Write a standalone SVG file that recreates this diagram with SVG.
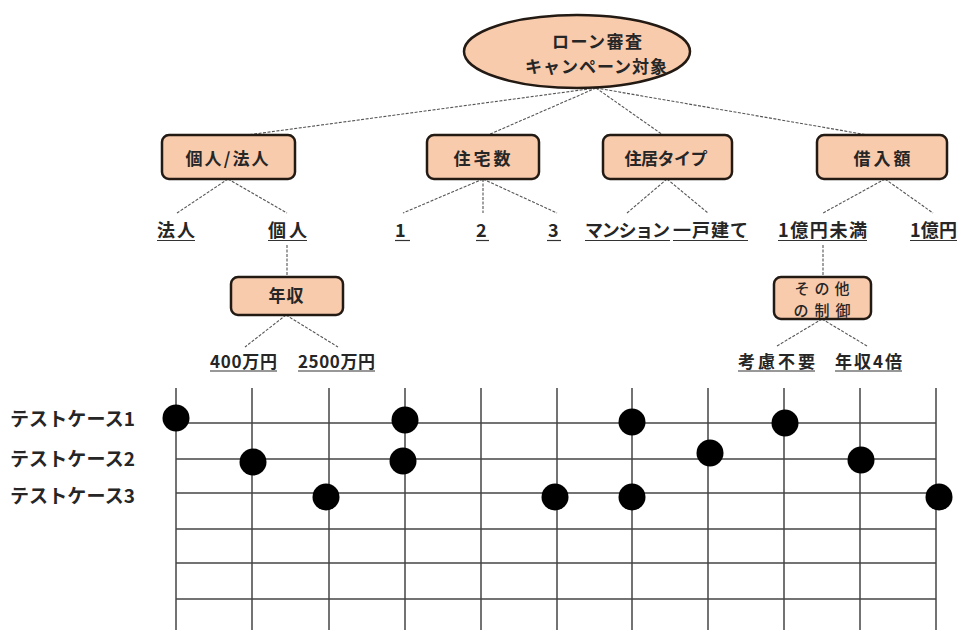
<svg xmlns="http://www.w3.org/2000/svg" width="958" height="630" viewBox="0 0 958 630">
<style>
.t{font-family:"Noto Sans CJK JP","Noto Sans",sans-serif;font-weight:bold;fill:#262626}
.m{font-family:"Noto Sans CJK JP","Noto Sans",sans-serif;font-weight:500;fill:#262626}
.n{fill:#F8CBAD;stroke:#231a14;stroke-width:2.5}
.c{stroke:#555;stroke-width:1.1;stroke-dasharray:3 1.5;fill:none}
.u{stroke:#333;stroke-width:1.2}
.g{stroke:#444;stroke-width:1.5}
.d{fill:#000}
</style>
<rect width="958" height="630" fill="#fff"/>
<g id="connectors">
<line class="c" x1="596" y1="88" x2="247" y2="135"/>
<line class="c" x1="596" y1="88" x2="488" y2="135"/>
<line class="c" x1="596" y1="88" x2="663" y2="135"/>
<line class="c" x1="596" y1="88" x2="868" y2="135"/>
<line class="c" x1="228" y1="179" x2="177" y2="213"/>
<line class="c" x1="228" y1="179" x2="287" y2="213"/>
<line class="c" x1="483" y1="179" x2="403" y2="213"/>
<line class="c" x1="483" y1="179" x2="483" y2="213"/>
<line class="c" x1="483" y1="179" x2="557" y2="213"/>
<line class="c" x1="667" y1="179" x2="627" y2="213"/>
<line class="c" x1="667" y1="179" x2="708" y2="213"/>
<line class="c" x1="885" y1="179" x2="823" y2="213"/>
<line class="c" x1="885" y1="179" x2="933" y2="213"/>
<line class="c" x1="287" y1="245" x2="287" y2="277"/>
<line class="c" x1="286" y1="315" x2="245" y2="347"/>
<line class="c" x1="286" y1="315" x2="338" y2="347"/>
<line class="c" x1="823" y1="245" x2="823" y2="277"/>
<line class="c" x1="822" y1="319" x2="777" y2="346"/>
<line class="c" x1="822" y1="319" x2="867" y2="346"/>
</g>
<g id="root">
<ellipse class="n" cx="577" cy="51.5" rx="113" ry="36.5"/>
<text class="t" x="597" y="48" font-size="17" text-anchor="middle" textLength="90">ローン審査</text>
<text class="t" x="596" y="73" font-size="17" text-anchor="middle" textLength="142">キャンペーン対象</text>
</g>
<g id="node-kojin-hojin">
<rect class="n" x="162" y="135" width="133" height="44" rx="7"/>
<text class="t" x="227" y="165" font-size="17" text-anchor="middle" textLength="83">個人/法人</text>
</g>
<g id="node-jutakusu">
<rect class="n" x="427" y="135" width="112" height="44" rx="7"/>
<text class="t" x="482" y="165" font-size="17" text-anchor="middle" textLength="57">住宅数</text>
</g>
<g id="node-jukyo">
<rect class="n" x="603" y="135" width="129" height="44" rx="7"/>
<text class="t" x="666" y="165" font-size="17" text-anchor="middle" textLength="83">住居タイプ</text>
</g>
<g id="node-kariire">
<rect class="n" x="817" y="135" width="130" height="44" rx="7"/>
<text class="t" x="882" y="165" font-size="17" text-anchor="middle" textLength="57">借入額</text>
</g>
<g id="node-nenshu">
<rect class="n" x="231" y="277" width="112" height="38" rx="7"/>
<text class="t" x="286" y="302" font-size="17" text-anchor="middle" textLength="35">年収</text>
</g>
<g id="node-sonota">
<rect class="n" x="774" y="277" width="97" height="42" rx="7"/>
<text class="m" x="822" y="294" font-size="15" text-anchor="middle" textLength="55">その他</text>
<text class="m" x="822" y="316" font-size="15" text-anchor="middle" textLength="57">の制御</text>
</g>
<g id="leaves">
<text class="t" x="157" y="237" font-size="18" textLength="38">法人</text>
<line class="u" x1="157" y1="240.5" x2="195" y2="240.5"/>
<text class="t" x="268" y="237" font-size="18" textLength="39">個人</text>
<line class="u" x1="268" y1="240.5" x2="307" y2="240.5"/>
<text class="t" x="395" y="237" font-size="18" textLength="15">1</text>
<line class="u" x1="395" y1="240.5" x2="410" y2="240.5"/>
<text class="t" x="476" y="237" font-size="18" textLength="12">2</text>
<line class="u" x1="476" y1="240.5" x2="489" y2="240.5"/>
<text class="t" x="548" y="237" font-size="18" textLength="12">3</text>
<line class="u" x1="547" y1="240.5" x2="561" y2="240.5"/>
<text class="t" x="585" y="237" font-size="18" textLength="85">マンション</text>
<line class="u" x1="585" y1="240.5" x2="670" y2="240.5"/>
<text class="t" x="673" y="237" font-size="18" textLength="75">一戸建て</text>
<line class="u" x1="673" y1="240.5" x2="748" y2="240.5"/>
<text class="t" x="778" y="237" font-size="18" textLength="89">1億円未満</text>
<line class="u" x1="778" y1="240.5" x2="867" y2="240.5"/>
<text class="t" x="910" y="237" font-size="18" textLength="47">1億円</text>
<line class="u" x1="910" y1="240.5" x2="957" y2="240.5"/>
<text class="t" x="210" y="368" font-size="17" textLength="67">400万円</text>
<line class="u" x1="210" y1="371" x2="277" y2="371"/>
<text class="t" x="298" y="368" font-size="17" textLength="77">2500万円</text>
<line class="u" x1="298" y1="371" x2="375" y2="371"/>
<text class="t" x="738" y="368" font-size="17" textLength="77">考慮不要</text>
<line class="u" x1="738" y1="371" x2="815" y2="371"/>
<text class="t" x="835" y="368" font-size="17" textLength="67">年収4倍</text>
<line class="u" x1="835" y1="371" x2="902" y2="371"/>
</g>
<g id="grid">
<line class="g" x1="176" y1="388" x2="176" y2="630"/>
<line class="g" x1="252" y1="388" x2="252" y2="630"/>
<line class="g" x1="329" y1="388" x2="329" y2="630"/>
<line class="g" x1="405" y1="388" x2="405" y2="630"/>
<line class="g" x1="481" y1="388" x2="481" y2="630"/>
<line class="g" x1="557" y1="388" x2="557" y2="630"/>
<line class="g" x1="632" y1="388" x2="632" y2="630"/>
<line class="g" x1="708" y1="388" x2="708" y2="630"/>
<line class="g" x1="784" y1="388" x2="784" y2="630"/>
<line class="g" x1="860" y1="388" x2="860" y2="630"/>
<line class="g" x1="936" y1="388" x2="936" y2="630"/>
<line class="g" x1="176" y1="423" x2="936" y2="423"/>
<line class="g" x1="176" y1="459" x2="936" y2="459"/>
<line class="g" x1="176" y1="493" x2="936" y2="493"/>
<line class="g" x1="176" y1="529" x2="936" y2="529"/>
<line class="g" x1="176" y1="563" x2="936" y2="563"/>
<line class="g" x1="176" y1="599" x2="936" y2="599"/>
</g>
<g id="testcases">
<text class="t" x="10" y="426" font-size="19" textLength="125">テストケース1</text>
<text class="t" x="10" y="466" font-size="19" textLength="125">テストケース2</text>
<text class="t" x="10" y="503" font-size="19" textLength="125">テストケース3</text>
<circle class="d" cx="176" cy="418" r="13.5"/>
<circle class="d" cx="405" cy="420" r="13.5"/>
<circle class="d" cx="632" cy="422" r="13.5"/>
<circle class="d" cx="785" cy="423" r="13.5"/>
<circle class="d" cx="253" cy="462" r="13.5"/>
<circle class="d" cx="403" cy="461" r="13.5"/>
<circle class="d" cx="710" cy="453" r="13.5"/>
<circle class="d" cx="861" cy="460" r="13.5"/>
<circle class="d" cx="326" cy="497" r="13.5"/>
<circle class="d" cx="555" cy="497" r="13.5"/>
<circle class="d" cx="632" cy="497" r="13.5"/>
<circle class="d" cx="939" cy="497" r="13.5"/>
</g>
</svg>
